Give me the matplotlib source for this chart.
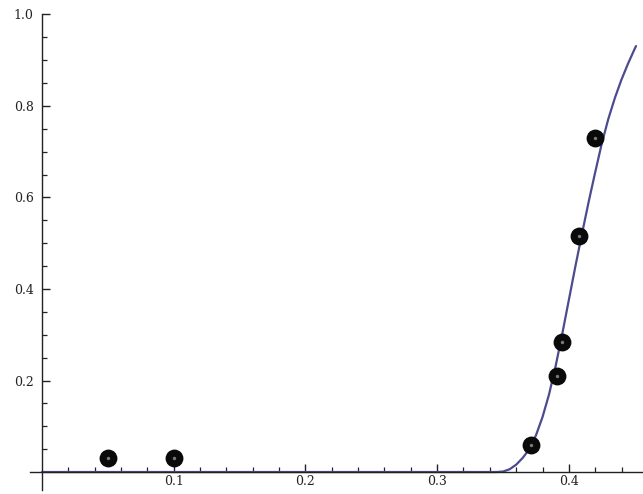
import matplotlib
matplotlib.use("Agg")
import matplotlib.pyplot as plt
from matplotlib.ticker import FixedLocator

# Measured data points
data_x = [0.05, 0.10, 0.371, 0.391, 0.395, 0.408, 0.420]
data_y = [0.03, 0.03, 0.060, 0.210, 0.285, 0.515, 0.730]

# Fitted response curve, sampled
curve_x = [0.000, 0.345, 0.350, 0.355, 0.360, 0.365, 0.370, 0.375, 0.380, 0.385,
           0.390, 0.395, 0.400, 0.405, 0.410, 0.415, 0.420, 0.425, 0.430,
           0.435, 0.440, 0.445, 0.450, 0.451]
curve_y = [0.000, 0.000, 0.001, 0.006, 0.016, 0.031, 0.050, 0.080, 0.120, 0.170,
           0.232, 0.302, 0.376, 0.450, 0.521, 0.590, 0.655, 0.718, 0.772,
           0.818, 0.858, 0.893, 0.925, 0.931]

x_major = [0.1, 0.2, 0.3, 0.4]
y_major = [0.2, 0.4, 0.6, 0.8, 1.0]

W, H = 643, 494
fig = plt.figure(figsize=(W / 100, H / 100), dpi=100)

# axes box in pixels
left_px, right_px, top_px, bottom_px = 30, 643, 10, 490
ax = fig.add_axes([left_px / W, 1 - bottom_px / H,
                   (right_px - left_px) / W, (bottom_px - top_px) / H])

ax.set_xlim(-0.0091, 0.4563)
ax.set_ylim(-0.0393, 1.0098)

ax.plot(curve_x, curve_y, color="#4b4b8f", lw=1.6, solid_capstyle="round", zorder=2)
ax.scatter(data_x, data_y, s=165, color="#0a0a0a", zorder=3, linewidths=0)
ax.scatter(data_x, data_y, s=6, color="#7a7a7a", zorder=4, linewidths=0)

for side in ("top", "right"):
    ax.spines[side].set_visible(False)
ax.spines["left"].set_position(("data", 0))
ax.spines["bottom"].set_position(("data", 0))
ax.spines["left"].set_bounds(-0.0393, 1.0)
for side in ("left", "bottom"):
    ax.spines[side].set_linewidth(1.0)
    ax.spines[side].set_color("#222222")

ax.xaxis.set_major_locator(FixedLocator(x_major))
ax.yaxis.set_major_locator(FixedLocator(y_major))
ax.xaxis.set_minor_locator(FixedLocator([v / 100 for v in range(2, 46, 2) if v % 10]))
ax.yaxis.set_minor_locator(FixedLocator([v / 100 for v in range(5, 100, 5) if v % 20]))
ax.set_xticklabels([f"{v:.1f}" for v in x_major])
ax.set_yticklabels([f"{v:.1f}" for v in y_major])

ax.tick_params(axis="both", which="major", direction="in", length=6, width=1.0,
               color="#222222", labelsize=9, pad=2)
ax.tick_params(axis="both", which="minor", direction="in", length=3.5, width=0.9,
               color="#222222")
ax.tick_params(axis="y", which="major", pad=6)
for lab in ax.get_xticklabels() + ax.get_yticklabels():
    lab.set_fontfamily("DejaVu Serif")
    lab.set_color("#222222")

ax.patch.set_alpha(0)
fig.savefig("out.png", dpi=100)
